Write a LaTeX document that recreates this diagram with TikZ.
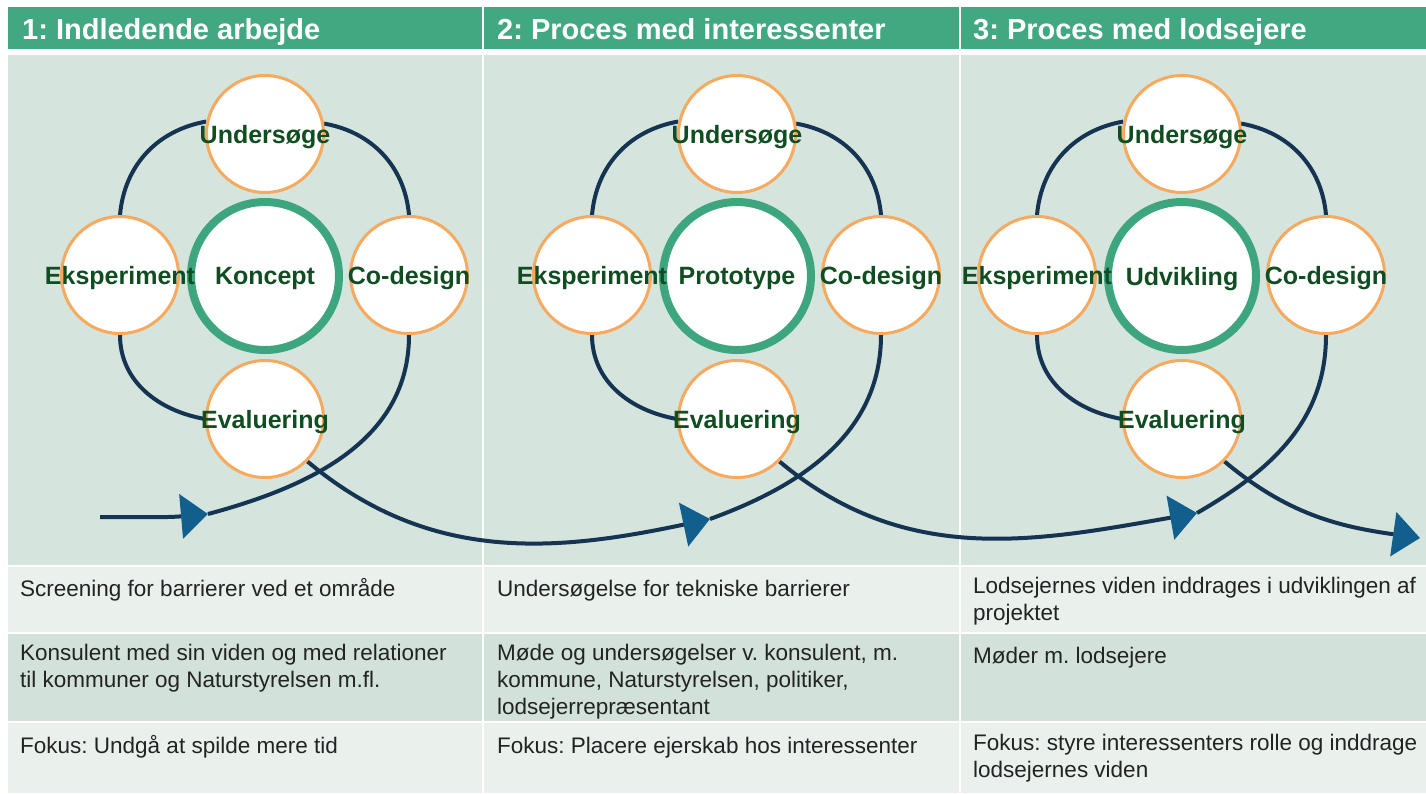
\documentclass[tikz,border=0pt]{standalone}
\usepackage{fontspec}
\setmainfont{Liberation Sans}
\usetikzlibrary{arrows.meta}
\pgfdeclarelayer{background}
\pgfsetlayers{background,main}
\definecolor{headgreen}{RGB}{66,168,130}
\definecolor{panelbg}{RGB}{213,228,221}
\definecolor{rowlight}{RGB}{234,241,237}
\definecolor{rowdark}{RGB}{210,226,218}
\definecolor{ringorange}{RGB}{245,170,95}
\definecolor{ringgreen}{RGB}{62,166,126}
\definecolor{loopnavy}{RGB}{20,52,82}
\definecolor{tipblue}{RGB}{18,94,140}
\definecolor{labgreen}{RGB}{16,78,34}
\definecolor{tabtext}{RGB}{35,35,35}
\frenchspacing
\begin{document}
\begin{tikzpicture}[x=1pt, y=-1pt, font=\fontsize{22.5}{27}\selectfont,
	phase/.style={circle, draw=ringorange, line width=3pt, fill=white, minimum size=117pt, inner sep=0pt},
	core/.style={circle, draw=ringgreen, line width=8pt, fill=white, minimum size=148pt, inner sep=0pt,
		text depth=0pt, text=labgreen, font=\bfseries\fontsize{25}{30}\selectfont},
	lab/.style={text=labgreen, font=\bfseries\fontsize{25}{30}\selectfont, inner sep=0pt, yshift=-3pt},
	loopline/.style={draw=loopnavy, line width=4pt},
	headtip/.style={-{Triangle[length=27pt, width=44pt, color=tipblue]}},
	headtext/.style={anchor=base west, inner sep=0pt, text=white, font=\bfseries\fontsize{29}{34}\selectfont},
	tabcell/.style={anchor=north west, align=left, inner sep=0pt, text=tabtext, execute at begin node=\strut}]
	\useasboundingbox (0,0) rectangle (1426,793);
	%panels
	\begin{pgfonlayer}{background}
	\fill[white] (0,0) rectangle (1426,793);
	\foreach \x/\w in {8/474, 484/475, 961/465}{
		\fill[headgreen] (\x,7) rectangle ++(\w,42);
		\fill[panelbg] (\x,55) rectangle ++(\w,510);
		\fill[rowlight] (\x,567) rectangle ++(\w,65);
		\fill[rowdark] (\x,634) rectangle ++(\w,87);
		\fill[rowlight] (\x,723) rectangle ++(\w,70);
	}
	\end{pgfonlayer}
	%headers
	\node[headtext] (head1) at (22,39) {1: Indledende arbejde};
	\node[headtext] (head2) at (497,39) {2: Proces med interessenter};
	\node[headtext] (head3) at (973,39) {3: Proces med lodsejere};
	%circles
	\foreach \c/\cx/\midtext in {1/265/Koncept, 2/737/Prototype, 3/1182/Udvikling}{
		\node[core] (mid\c) at (\cx,276) {\midtext};
		\node[phase, label={[lab]center:Undersøge}] (und\c) at (\cx,134) {};
		\node[phase, label={[lab]center:Eksperiment}] (eks\c) at (\cx-145,275) {};
		\node[phase, label={[lab]center:Co-design}] (cod\c) at (\cx+144,275) {};
		\node[phase, label={[lab]center:Evaluering}] (eva\c) at (\cx,419) {};
		\begin{pgfonlayer}{background}
		\draw[loopline] (eks\c.north) to[out=85,in=190] (und\c.168);
		\draw[loopline] (und\c.10) to[out=-10,in=95] (cod\c.north);
		\draw[loopline] (eks\c.south) to[out=-90,in=170] (eva\c.west);
		\end{pgfonlayer}
	}
	%flow
	\coordinate (start) at (100,517);
	\coordinate (tip1) at (208,514);
	\coordinate (tip2) at (710,519);
	\coordinate (tip3) at (1197,513);
	\coordinate (end) at (1420,538);
	\begin{pgfonlayer}{background}
	\draw[loopline, headtip] (start) to[out=0,in=185] (tip1);
	\draw[loopline] (tip1) to[out=15,in=-90] (cod1.south);
	\draw[loopline, headtip] (eva1.-45) to[out=-40,in=192] (tip2);
	\draw[loopline] (tip2) to[out=20,in=-90] (cod2.south);
	\draw[loopline, headtip] (eva2.-45) to[out=-40,in=190] (tip3);
	\draw[loopline] (tip3) to[out=30,in=-90] (cod3.south);
	\draw[loopline, headtip] (eva3.-45) to[out=-40,in=172] (end);
	\end{pgfonlayer}
	%table
	\node[tabcell] (t11) at (20,577) {Screening for barrierer ved et område};
	\node[tabcell] (t12) at (20,644) {Konsulent med sin viden og med relationer\\til kommuner og Naturstyrelsen m.fl.};
	\node[tabcell] (t13) at (20,734) {Fokus: Undgå at spilde mere tid};
	\node[tabcell] (t21) at (497,577) {Undersøgelse for tekniske barrierer};
	\node[tabcell] (t22) at (497,644) {Møde og undersøgelser v. konsulent, m.\\kommune, Naturstyrelsen, politiker,\\lodsejerrepræsentant};
	\node[tabcell] (t23) at (497,734) {Fokus: Placere ejerskab hos interessenter};
	\node[tabcell] (t31) at (973,577) {Lodsejernes viden inddrages i udviklingen af\\projektet};
	\node[tabcell] (t32) at (973,644) {Møder m. lodsejere};
	\node[tabcell] (t33) at (973,734) {Fokus: styre interessenters rolle og inddrage\\lodsejernes viden};
\end{tikzpicture}
\end{document}
